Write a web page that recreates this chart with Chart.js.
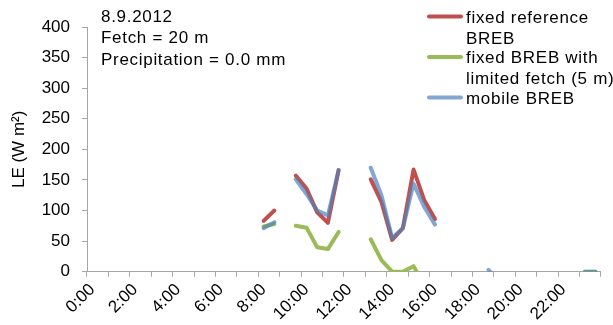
<!DOCTYPE html>
<html>
<head>
<meta charset="utf-8">
<script src="https://cdn.jsdelivr.net/npm/chart.js@4.4.0/dist/chart.umd.min.js"></script>
<style>
  html, body { margin: 0; padding: 0; background: #fff; }
</style>
</head>
<body>
<canvas id="chart1" width="613" height="325"></canvas>
<script>
// half-hourly categories
const times = [
  '0:00', '0:30', '1:00', '1:30', '2:00', '2:30', '3:00', '3:30',
  '4:00', '4:30', '5:00', '5:30', '6:00', '6:30', '7:00', '7:30',
  '8:00', '8:30', '9:00', '9:30', '10:00', '10:30', '11:00', '11:30',
  '12:00', '12:30', '13:00', '13:30', '14:00', '14:30', '15:00', '15:30',
  '16:00', '16:30', '17:00', '17:30', '18:00', '18:30', '19:00', '19:30',
  '20:00', '20:30', '21:00', '21:30', '22:00', '22:30', '23:00', '23:30'
];

// LE (W m-2), fixed reference BREB
const fixedRef = [
  null, null, null, null, null, null, null, null,
  null, null, null, null, null, null, null, null,
  83, 100, null, 157, 136, 97, 80, 166,
  null, null, 151, 114, 52, 71, 167, 117,
  86, null, null, null, null, null, null, null,
  null, null, null, null, null, null, null, null
];

// fixed BREB with limited fetch (5 m)
const fixedLimited = [
  null, null, null, null, null, null, null, null,
  null, null, null, null, null, null, null, null,
  74, 78, null, 75, 72, 40, 37, 65,
  null, null, 53, 19, 0, 0, 9, -22,
  null, null, null, null, null, null, null, null,
  null, null, null, null, null, null, 0, 0
];

// mobile BREB
const mobile = [
  null, null, null, null, null, null, null, null,
  null, null, null, null, null, null, null, null,
  71, 81, null, 151, 127, 100, 92, 166,
  null, null, 170, 125, 55, 71, 144, 106,
  77, null, null, null, null, 3, -15, null,
  null, null, null, null, null, null, 0, 0
];

const seriesNames = ['fixed reference BREB', 'fixed BREB with limited fetch (5 m)', 'mobile BREB'];
const legendLines = [['fixed reference', 'BREB'], ['fixed BREB with', 'limited fetch (5 m)'], ['mobile BREB']];
const notes = ['8.9.2012', 'Fetch = 20 m', 'Precipitation = 0.0 mm'];

const AXIS_GREY = '#a6a6a6';
const FONT = "'Liberation Sans', Arial, sans-serif";

// date / fetch note and the legend on the right
const textPlugin = {
  id: 'textPlugin',
  afterDraw(chart) {
    const c = chart.ctx;
    c.save();
    c.font = '17px ' + FONT;
    c.letterSpacing = '0.7px';
    c.fillStyle = '#000';
    c.textBaseline = 'middle';
    c.textAlign = 'left';
    notes.forEach((t, i) => c.fillText(t, 101, 17 + i * 21.7));

    let y = 18;
    chart.data.datasets.forEach((ds, k) => {
      c.strokeStyle = ds.borderColor;
      c.lineWidth = 4;
      c.lineCap = 'round';
      c.beginPath();
      c.moveTo(429, y - 1.5);
      c.lineTo(461, y - 1.5);
      c.stroke();
      legendLines[k].forEach((t, j) => c.fillText(t, 466, y + j * 21));
      y += legendLines[k].length * 21 - 1.5;
    });
    c.restore();
  }
};

const ctx = document.getElementById('chart1').getContext('2d');
const chart = new Chart(ctx, {
  type: 'line',
  data: {
    labels: times,
    datasets: [
      { label: seriesNames[0], data: fixedRef, borderColor: '#c0504d', order: 3 },
      { label: seriesNames[1], data: fixedLimited, borderColor: '#9bbb59', order: 2 },
      { label: seriesNames[2], data: mobile, borderColor: 'rgba(79, 129, 189, 0.7)', order: 1 }
    ]
  },
  options: {
    responsive: false,
    animation: false,
    layout: { padding: { top: 27, right: 1, left: 0, bottom: 0 } },
    plugins: { legend: { display: false }, tooltip: { enabled: false } },
    elements: {
      point: { radius: 0 },
      line: { borderWidth: 4, tension: 0, borderCapStyle: 'round', borderJoinStyle: 'round' }
    },
    scales: {
      x: {
        offset: true,
        grid: {
          offset: true,
          drawOnChartArea: false,
          tickLength: 5,
          tickColor: c => (c.index === undefined || c.index % 2 === 0) ? AXIS_GREY : 'rgba(0,0,0,0)'
        },
        border: { color: AXIS_GREY },
        ticks: {
          autoSkip: false,
          maxRotation: 45,
          minRotation: 45,
          padding: 3,
          color: '#000',
          font: { family: FONT, size: 17 },
          callback: (v, i) => i % 4 === 0 ? times[i] : ''
        },
        afterFit: s => { s.height = 53.3; }
      },
      y: {
        min: 0,
        max: 400,
        ticks: { stepSize: 50, padding: 12, color: '#000', font: { family: FONT, size: 17 } },
        grid: { drawOnChartArea: false, tickLength: 5, color: AXIS_GREY },
        border: { color: AXIS_GREY },
        title: {
          display: true,
          text: 'LE (W m²)',
          color: '#000',
          font: { family: FONT, size: 17 },
          padding: { top: 9, bottom: 0 }
        },
        afterFit: s => { s.width = 87; }
      }
    }
  },
  plugins: [textPlugin]
});
</script>
</body>
</html>
